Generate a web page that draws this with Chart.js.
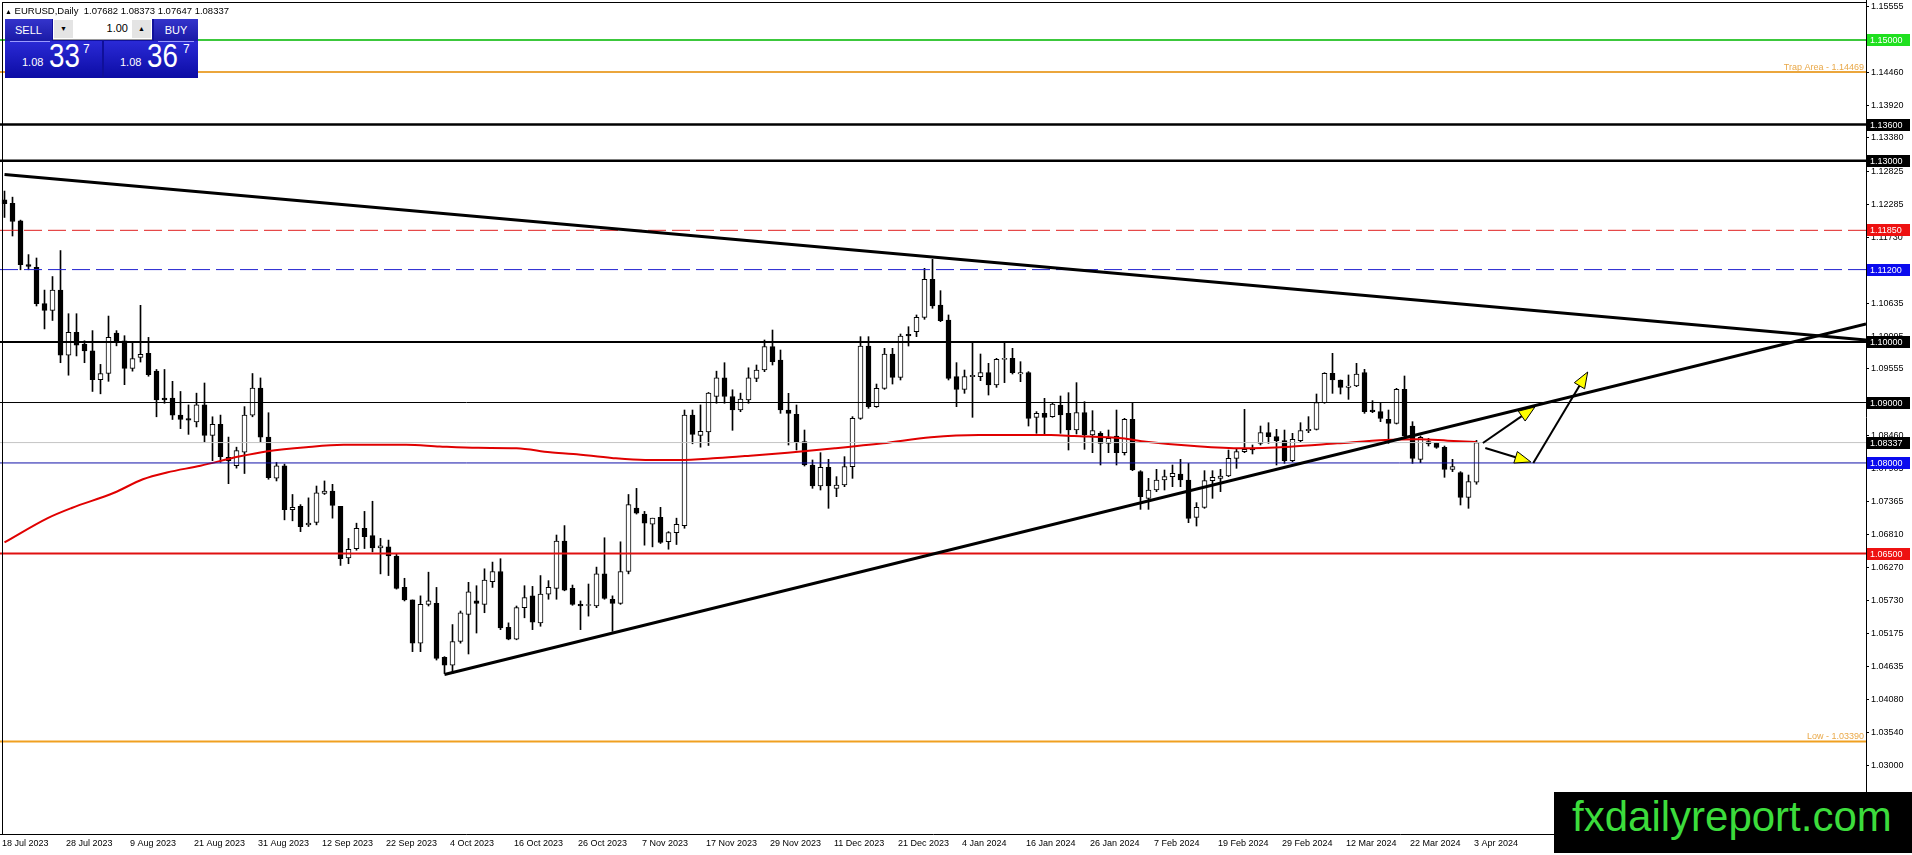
<!DOCTYPE html>
<html><head><meta charset="utf-8">
<script src="https://cdn.jsdelivr.net/npm/chart.js@4.4.1/dist/chart.umd.min.js"></script>
<style>
html,body{margin:0;padding:0;background:#fff;overflow:hidden;}
#wrap{position:relative;width:1912px;height:855px;}
#c{position:absolute;left:0;top:0;width:1912px;height:855px;}
.ov{position:absolute;font-family:"Liberation Sans",Arial,sans-serif;line-height:1;white-space:pre;}
.btn{background:linear-gradient(#3434cc,#1a1aa6);color:#fff;text-align:center;font-size:11px;line-height:22px;}
.pbox{background:linear-gradient(#2a2ad6,#0c0ca4);}
.big{font-size:33px;color:#fff;transform:scaleX(0.84);transform-origin:0 0;}
.sm{font-size:11px;color:#fff;}
.sup{font-size:12px;color:#fff;}
</style></head><body>
<div id="wrap">
<canvas id="c" width="1912" height="855"></canvas>
<div class="ov" id="hdr" style="left:5px;top:6px;font-size:9.5px;color:#000;"></div>
<div class="ov" style="left:5px;top:19px;width:193px;height:59px;background:#10109a;"></div>
<div class="ov btn" style="left:5px;top:19px;width:47px;height:22px;">SELL</div>
<div class="ov" style="left:53px;top:19px;width:99px;height:20px;background:#fff;border-bottom:1px solid #9a9a9a;"></div>
<div class="ov" style="left:54px;top:20px;width:19px;height:18px;background:#e4e4e4;font-size:7px;text-align:center;line-height:18px;color:#000;">▼</div>
<div class="ov" style="left:92px;top:23px;width:36px;font-size:11px;text-align:right;color:#000;">1.00</div>
<div class="ov" style="left:132px;top:20px;width:19px;height:18px;background:#e4e4e4;font-size:7px;text-align:center;line-height:18px;color:#000;">▲</div>
<div class="ov btn" style="left:154px;top:19px;width:44px;height:22px;">BUY</div>
<div class="ov pbox" style="left:5px;top:41px;width:97px;height:37px;"></div>
<div class="ov pbox" style="left:104px;top:41px;width:94px;height:37px;"></div>
<div class="ov" style="left:10px;top:41px;width:40px;height:1px;background:#9a9aff;"></div>
<div class="ov" style="left:158px;top:41px;width:36px;height:1px;background:#9a9aff;"></div>
<div class="ov sm" style="left:22px;top:57px;">1.08</div>
<div class="ov big" style="left:49px;top:39px;">33</div>
<div class="ov sup" style="left:83px;top:43px;">7</div>
<div class="ov sm" style="left:120px;top:57px;">1.08</div>
<div class="ov big" style="left:147px;top:39px;">36</div>
<div class="ov sup" style="left:183px;top:43px;">7</div>
<div class="ov" style="left:1554px;top:792px;width:358px;height:61px;background:#000;"></div>
<div class="ov" style="left:1572px;top:796px;font-size:42px;color:#3cdc3c;">fxdailyreport.com</div>
</div>
<script>
// ---------------- DATA ----------------
const symbolName = 'EURUSD,Daily';
const dateTickLabels = ['18 Jul 2023','28 Jul 2023','9 Aug 2023','21 Aug 2023','31 Aug 2023','12 Sep 2023','22 Sep 2023','4 Oct 2023','16 Oct 2023','26 Oct 2023','7 Nov 2023','17 Nov 2023','29 Nov 2023','11 Dec 2023','21 Dec 2023','4 Jan 2024','16 Jan 2024','26 Jan 2024','7 Feb 2024','19 Feb 2024','29 Feb 2024','12 Mar 2024','22 Mar 2024','3 Apr 2024'];
const barsPerDateTick = 8;
const priceTickValues = [1.15555,1.15005,1.14460,1.13920,1.13380,1.12825,1.12285,1.11730,1.11190,1.10635,1.10095,1.09555,1.09010,1.08460,1.07905,1.07365,1.06810,1.06270,1.05730,1.05175,1.04635,1.04080,1.03540,1.03000];

const candleOpen = [1.12354,1.12298,1.12007,1.11281,1.11236,1.10637,1.10526,1.10861,1.09782,1.10162,1.09966,1.09855,1.09379,1.09480,1.10151,1.10022,1.09564,1.09748,1.09815,1.09519,1.09072,1.09072,1.08792,1.08736,1.08680,1.08960,1.08456,1.08641,1.08093,1.07953,1.08177,1.08792,1.09239,1.08428,1.07746,1.07953,1.07226,1.07282,1.06975,1.07014,1.07495,1.07534,1.07282,1.06427,1.06583,1.06919,1.06796,1.06594,1.06611,1.06460,1.05940,1.05733,1.05017,1.05660,1.05677,1.04783,1.04654,1.05045,1.05493,1.05716,1.05660,1.06035,1.06203,1.05280,1.05085,1.05605,1.05800,1.05353,1.05828,1.05923,1.06706,1.05923,1.05660,1.05640,1.05632,1.06164,1.05744,1.05677,1.06203,1.07254,1.07154,1.06986,1.07098,1.06695,1.06846,1.06963,1.08792,1.08456,1.08512,1.09100,1.09407,1.09100,1.08876,1.09044,1.09400,1.09538,1.09924,1.09704,1.08876,1.08805,1.08352,1.07966,1.07618,1.07927,1.07580,1.07635,1.07938,1.08738,1.09935,1.08931,1.09235,1.09803,1.09417,1.10129,1.10173,1.10410,1.11039,1.10614,1.10366,1.09428,1.09218,1.09428,1.09428,1.09494,1.09290,1.09715,1.09731,1.09472,1.09494,1.08755,1.08821,1.08766,1.08959,1.08821,1.08545,1.08832,1.08462,1.08490,1.08324,1.08446,1.08170,1.08722,1.07856,1.07414,1.07552,1.07718,1.07773,1.07817,1.07718,1.07100,1.07265,1.07707,1.07745,1.07784,1.08076,1.08187,1.08242,1.08324,1.08501,1.08435,1.08369,1.08038,1.08369,1.08534,1.08556,1.08998,1.09483,1.09373,1.09251,1.09273,1.09494,1.08876,1.08849,1.08722,1.08655,1.09218,1.08611,1.08060,1.08352,1.08324,1.08258,1.07894,1.07839,1.07431,1.07682];
const candleHigh = [1.12500,1.12399,1.12019,1.11448,1.11392,1.10861,1.11085,1.11515,1.10470,1.10470,1.10022,1.10190,1.09631,1.10431,1.10190,1.10106,1.09994,1.10609,1.10078,1.09547,1.09547,1.09351,1.09183,1.08960,1.09155,1.09323,1.08764,1.08792,1.08428,1.08261,1.08932,1.09480,1.09407,1.08831,1.08009,1.07981,1.07478,1.07310,1.07422,1.07618,1.07702,1.07646,1.07282,1.06751,1.07003,1.07198,1.07366,1.06751,1.06723,1.06499,1.06091,1.05733,1.05800,1.06192,1.05940,1.04794,1.05325,1.05549,1.06024,1.05968,1.06248,1.06359,1.06415,1.05353,1.05632,1.05968,1.05957,1.06136,1.06052,1.06807,1.06963,1.05979,1.05716,1.05996,1.06276,1.06762,1.05800,1.06695,1.07478,1.07579,1.07198,1.07086,1.07265,1.06863,1.07086,1.08876,1.08876,1.08960,1.09167,1.09519,1.09659,1.09211,1.09155,1.09575,1.09621,1.10035,1.10200,1.09869,1.09152,1.08959,1.08545,1.08049,1.08170,1.08060,1.07773,1.08104,1.08766,1.10090,1.10090,1.09306,1.09897,1.09897,1.10134,1.10255,1.10449,1.11221,1.11370,1.10851,1.10449,1.09660,1.09538,1.09991,1.09803,1.09649,1.09731,1.09991,1.09897,1.09676,1.09511,1.08849,1.09069,1.08998,1.09108,1.09163,1.09329,1.09014,1.08865,1.08518,1.08545,1.08876,1.08738,1.08998,1.07872,1.07745,1.07894,1.07883,1.07966,1.08060,1.07993,1.07343,1.07872,1.07872,1.07894,1.08214,1.08242,1.08887,1.08297,1.08611,1.08666,1.08556,1.08545,1.08490,1.08666,1.08766,1.09141,1.09494,1.09814,1.09373,1.09456,1.09649,1.09549,1.09031,1.08998,1.08876,1.09235,1.09439,1.08683,1.08446,1.08407,1.08335,1.08280,1.08060,1.07856,1.07800,1.08373];
const candleLow = [1.12063,1.11756,1.11197,1.11197,1.10598,1.10218,1.10358,1.09659,1.09452,1.09771,1.09659,1.09183,1.09144,1.09351,1.09938,1.09295,1.09519,1.09670,1.09435,1.08764,1.08988,1.08719,1.08568,1.08473,1.08596,1.08345,1.08037,1.08009,1.07657,1.07914,1.07825,1.08764,1.08345,1.07730,1.07702,1.07058,1.07042,1.06863,1.06947,1.06975,1.07478,1.07086,1.06304,1.06332,1.06555,1.06583,1.06527,1.06164,1.06136,1.05912,1.05716,1.04877,1.04877,1.05632,1.04738,1.04514,1.04514,1.05017,1.04838,1.05185,1.05521,1.05940,1.05241,1.05073,1.05073,1.05437,1.05241,1.05297,1.05744,1.05744,1.05884,1.05644,1.05241,1.05465,1.05605,1.05744,1.05213,1.05660,1.06164,1.07154,1.06639,1.06611,1.06667,1.06572,1.06650,1.06919,1.08317,1.08261,1.08289,1.08988,1.08988,1.08540,1.08848,1.08988,1.09345,1.09511,1.09621,1.08821,1.08297,1.08214,1.07949,1.07580,1.07552,1.07249,1.07442,1.07607,1.07745,1.08722,1.08904,1.08920,1.09218,1.09306,1.09373,1.09935,1.10090,1.10377,1.10559,1.10338,1.09373,1.08931,1.09152,1.08755,1.09362,1.09124,1.09251,1.09329,1.09472,1.09345,1.08611,1.08490,1.08479,1.08755,1.08490,1.08214,1.08479,1.08225,1.08170,1.07966,1.08170,1.07966,1.08131,1.07872,1.07232,1.07232,1.07525,1.07552,1.07607,1.07607,1.07011,1.06956,1.07249,1.07414,1.07525,1.07773,1.07911,1.08170,1.08148,1.08297,1.08324,1.07966,1.07993,1.08021,1.08352,1.08501,1.08545,1.08987,1.09152,1.09141,1.09053,1.09262,1.08821,1.08832,1.08683,1.08324,1.08644,1.08435,1.07993,1.08004,1.08280,1.08242,1.07762,1.07856,1.07304,1.07249,1.07647];
const candleClose = [1.12290,1.11996,1.11281,1.11253,1.10637,1.10526,1.10861,1.09782,1.10162,1.09950,1.09855,1.09379,1.09480,1.10078,1.10022,1.09564,1.09726,1.09799,1.09463,1.09044,1.09044,1.08792,1.08719,1.08708,1.08960,1.08456,1.08641,1.08104,1.08037,1.08205,1.08792,1.09239,1.08428,1.07758,1.07953,1.07226,1.07265,1.06947,1.07003,1.07506,1.07534,1.07299,1.06415,1.06572,1.06919,1.06779,1.06594,1.06628,1.06460,1.05923,1.05733,1.05017,1.05660,1.05716,1.04766,1.04654,1.05045,1.05521,1.05867,1.05677,1.06063,1.06203,1.05269,1.05085,1.05605,1.05772,1.05364,1.05828,1.05940,1.06706,1.05895,1.05660,1.05632,1.05650,1.06164,1.05756,1.05677,1.06203,1.07310,1.07170,1.07003,1.07086,1.06684,1.06846,1.06986,1.08792,1.08473,1.08524,1.09155,1.09407,1.09100,1.08876,1.09055,1.09407,1.09538,1.09924,1.09676,1.08876,1.08821,1.08352,1.07966,1.07618,1.07927,1.07618,1.07635,1.07938,1.08738,1.09935,1.08931,1.09235,1.09803,1.09417,1.10101,1.10101,1.10410,1.11039,1.10597,1.10355,1.09400,1.09218,1.09428,1.09450,1.09494,1.09290,1.09715,1.09720,1.09494,1.09494,1.08738,1.08821,1.08755,1.08976,1.08793,1.08545,1.08832,1.08462,1.08534,1.08324,1.08407,1.08170,1.08722,1.07883,1.07442,1.07552,1.07718,1.07773,1.07828,1.07718,1.07083,1.07265,1.07707,1.07762,1.07784,1.08076,1.08187,1.08225,1.08214,1.08501,1.08435,1.08369,1.08038,1.08391,1.08534,1.08556,1.08998,1.09483,1.09373,1.09251,1.09273,1.09472,1.08849,1.08849,1.08738,1.08655,1.09218,1.08446,1.08076,1.08424,1.08313,1.08258,1.07894,1.07938,1.07431,1.07690,1.08337];

// moving average: [bar index, price]
const maBarIndex = [0,5.4,8.4,13.7,17.3,20.3,24.5,29.3,32.9,37.7,42.4,50.2,54.4,59.2,64.0,68.2,71.1,75.9,80.1,84.3,89.1,93.2,97.9,103.8,109.8,115.8,121.8,130.8,133.7,139.7,142.7,148.7,154.7,160.7,166.6,172.6,176.8,180.4,184];
const maPrice = [1.06684,1.07087,1.07255,1.07506,1.07730,1.07842,1.07954,1.08105,1.08194,1.08261,1.08300,1.08300,1.08272,1.08250,1.08244,1.08177,1.08149,1.08082,1.08049,1.08049,1.08082,1.08121,1.08170,1.08242,1.08324,1.08424,1.08462,1.08462,1.08446,1.08407,1.08352,1.08280,1.08242,1.08269,1.08324,1.08380,1.08391,1.08369,1.08347];

// horizontal levels
const levelValues = [1.15000,1.14469,1.13600,1.13000,1.11850,1.11200,1.10000,1.09000,1.08337,1.08000,1.06500,1.03390];
const levelNames  = ['','Trap Area','','','','','','','','','','Low'];

// trend lines: [bar index, price] start / end
const trendDownStart = [0, 1.12772];
const trendDownEnd   = [232.6875, 1.10033];
const trendUpStart   = [55, 1.04498];
const trendUpEnd     = [232.6875, 1.10301];

// arrows: [bar index, price] from / to
const arrowFrom = [[184.8,1.08330],[185.1,1.08247],[191.1,1.08000]];
const arrowTo   = [[191.3,1.08926],[190.8,1.08016],[197.9,1.09505]];

// ---------------- STYLES ----------------
const X_MIN = -0.5625, X_MAX = 232.6875;
const Y_MIN = 1.018587, Y_MAX = 1.156620;
const levelStyles = [
  {color:'#3cc83c', width:2, dash:[], box:'#1fe01f'},
  {color:'#eba63c', width:2, dash:[], box:null, text:'#e9a848'},
  {color:'#000000', width:2.5, dash:[], box:'#000000'},
  {color:'#000000', width:2.5, dash:[], box:'#000000'},
  {color:'#e02020', width:1, dash:[18,6], box:'#ee1111'},
  {color:'#2020d0', width:1, dash:[18,6], box:'#0b0bee'},
  {color:'#000000', width:2, dash:[], box:'#000000'},
  {color:'#000000', width:1, dash:[], box:'#000000'},
  {color:'#c4c4c4', width:1, dash:[], box:'#000000'},
  {color:'#1010a8', width:1, dash:[], box:'#0b0bee'},
  {color:'#e01010', width:2, dash:[], box:'#ee1111'},
  {color:'#f0a020', width:2, dash:[], box:null, text:'#e9a848'}
];
const FONT = '"Liberation Sans", Arial, sans-serif';

// header text from last candle
const L = candleOpen.length - 1;
document.getElementById('hdr').innerHTML = '<span style="font-size:7px">▲</span> ' + symbolName + '  ' +
  [candleOpen[L], candleHigh[L], candleLow[L], candleClose[L]].map(v => v.toFixed(5)).join(' ');

// ---------------- DATASETS ----------------
const wickData = candleHigh.map((h, i) => ({x: i, y: [candleLow[i], h]}));
const bodyData = candleOpen.map((o, i) => ({x: i, y: [o, candleClose[i]]}));
const maData = maBarIndex.map((b, k) => ({x: b, y: maPrice[k]}));

const datasets = [
  {type:'bar', data: wickData, grouped:false, barThickness:1, backgroundColor:'#000', borderWidth:0, order:30},
  {type:'bar', data: bodyData, grouped:false, barThickness:5, minBarLength:1,
   backgroundColor: c => (candleClose[c.dataIndex] >= candleOpen[c.dataIndex] ? '#ffffff' : '#000000'),
   borderColor:'#000', borderWidth:1, borderSkipped:false, order:29},
  {type:'line', data: maData, borderColor:'#e00000', borderWidth:2, pointRadius:0, tension:0.4, cubicInterpolationMode:'monotone', order:10}
];
levelValues.forEach((v, k) => {
  const s = levelStyles[k];
  datasets.push({type:'line', data:[{x:X_MIN, y:v},{x:X_MAX, y:v}], borderColor:s.color, borderWidth:s.width, borderDash:s.dash, pointRadius:0, order:5});
});
[[trendDownStart, trendDownEnd],[trendUpStart, trendUpEnd]].forEach(([a, b]) => {
  datasets.push({type:'line', data:[{x:a[0], y:a[1]},{x:b[0], y:b[1]}], borderColor:'#000', borderWidth:3, pointRadius:0, order:1});
});

// ---------------- PLUGINS ----------------
const decorPlugin = {
  id: 'decor',
  afterDatasetsDraw(chart) {
    const {ctx, scales: {x, y}, chartArea} = chart;
    ctx.save();
    ctx.fillStyle = '#000';
    ctx.fillRect(2, 2, chartArea.right - 2, 1);
    ctx.fillRect(2, 2, 1, chartArea.bottom - 2);
    arrowFrom.forEach((f, k) => {
      const t = arrowTo[k];
      const x1 = x.getPixelForValue(f[0]), y1 = y.getPixelForValue(f[1]);
      const x2 = x.getPixelForValue(t[0]), y2 = y.getPixelForValue(t[1]);
      const ang = Math.atan2(y2 - y1, x2 - x1), len = 16, w = 6;
      const bx = x2 - len * Math.cos(ang), by = y2 - len * Math.sin(ang);
      ctx.strokeStyle = '#000'; ctx.lineWidth = 2;
      ctx.beginPath(); ctx.moveTo(x1, y1); ctx.lineTo(bx, by); ctx.stroke();
      ctx.beginPath(); ctx.moveTo(x2, y2);
      ctx.lineTo(bx + w * Math.sin(ang), by - w * Math.cos(ang));
      ctx.lineTo(bx - w * Math.sin(ang), by + w * Math.cos(ang));
      ctx.closePath();
      ctx.fillStyle = '#ffff00'; ctx.fill(); ctx.lineWidth = 1; ctx.stroke();
    });
    ctx.font = '9px ' + FONT; ctx.textAlign = 'right'; ctx.textBaseline = 'alphabetic';
    levelValues.forEach((v, k) => {
      if (!levelNames[k]) return;
      ctx.fillStyle = levelStyles[k].text;
      ctx.fillText(levelNames[k] + ' - ' + v.toFixed(5), chartArea.right - 2, y.getPixelForValue(v) - 2);
    });
    ctx.restore();
  },
  afterDraw(chart) {
    const {ctx, scales: {y}, chartArea} = chart;
    ctx.save();
    ctx.font = '9px ' + FONT; ctx.textAlign = 'left'; ctx.textBaseline = 'middle';
    levelValues.forEach((v, k) => {
      const s = levelStyles[k];
      if (!s.box) return;
      const py = Math.round(y.getPixelForValue(v));
      ctx.fillStyle = s.box;
      ctx.fillRect(chartArea.right + 1, py - 6, 43, 12);
      ctx.fillStyle = '#ffffff';
      ctx.fillText(v.toFixed(5), chartArea.right + 4, py + 0.5);
    });
    ctx.restore();
  }
};

// ---------------- CHART ----------------
new Chart(document.getElementById('c'), {
  type: 'bar',
  data: { datasets },
  options: {
    responsive: false, maintainAspectRatio: false, devicePixelRatio: 1,
    animation: false, events: [],
    layout: { padding: 0 },
    plugins: { legend: {display:false}, tooltip: {enabled:false}, title:{display:false} },
    scales: {
      x: {
        type: 'linear', position: 'bottom', min: X_MIN, max: X_MAX, offset: false,
        grid: { display: true, drawOnChartArea: false, drawTicks: false },
        border: { display: true, color: '#000', width: 1 },
        afterBuildTicks: s => { s.ticks = dateTickLabels.map((_, k) => ({value: k * barsPerDateTick})); },
        afterFit: s => { s.height = 21; s.paddingLeft = 0; s.paddingRight = 0; s.paddingTop = 0; s.paddingBottom = 0; },
        ticks: { autoSkip: false, maxRotation: 0, minRotation: 0, align: 'start', labelOffset: -2.5, padding: 4,
          color: '#000', font: { family: FONT, size: 9 },
          callback: (v, idx) => dateTickLabels[idx] }
      },
      y: {
        type: 'linear', position: 'right', min: Y_MIN, max: Y_MAX,
        grid: { display: true, drawOnChartArea: false, drawTicks: true, tickLength: 3, color: '#000' },
        border: { display: true, color: '#000', width: 1 },
        afterBuildTicks: s => { s.ticks = priceTickValues.map(v => ({value: v})); },
        afterFit: s => { s.width = 46; s.paddingTop = 0; s.paddingBottom = 0; s.paddingLeft = 0; s.paddingRight = 0; },
        ticks: { autoSkip: false, padding: 2, color: '#000', font: { family: FONT, size: 9 },
          callback: v => v.toFixed(5) }
      }
    }
  },
  plugins: [decorPlugin]
});
</script>
</body></html>
